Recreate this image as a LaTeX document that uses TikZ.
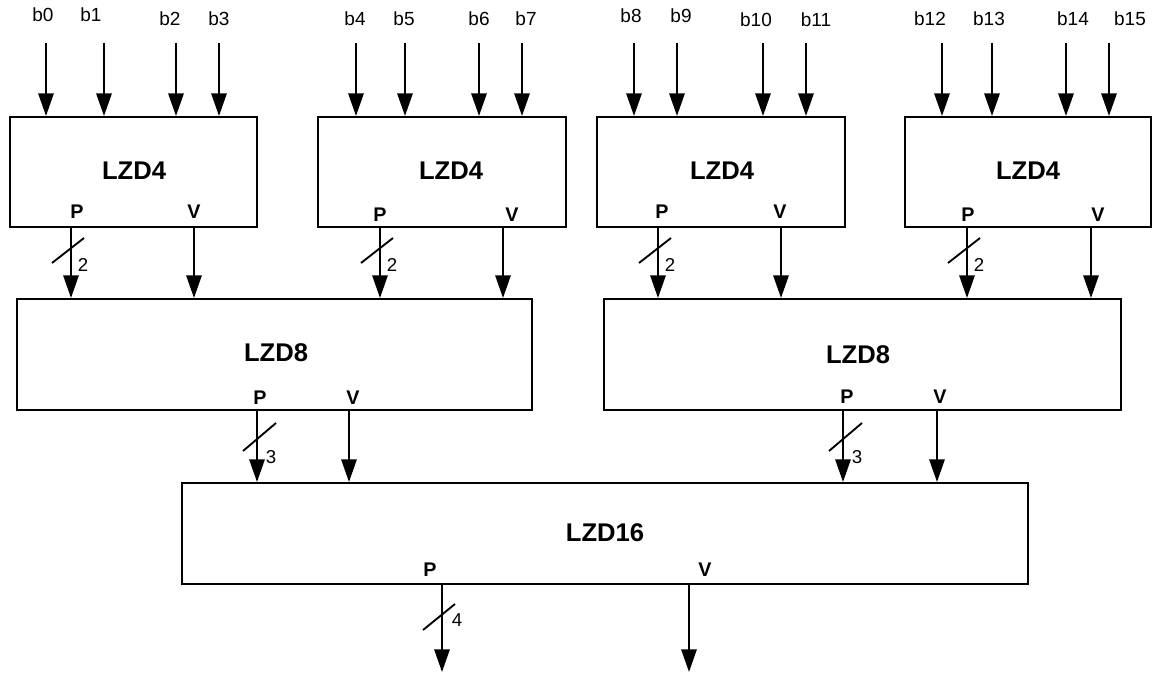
\documentclass[tikz,border=0pt]{standalone}
\usepackage{fontspec}
\setmainfont{Liberation Sans}
\usetikzlibrary{arrows.meta,calc}
\begin{document}
\begin{tikzpicture}[x=0.75pt,y=-0.75pt,
  wire/.style={line width=1.5pt},
  arr/.style={wire,-{Triangle[length=17pt,width=11.5pt]}},
  blk/.style={draw,line width=1.5pt,inner sep=0pt},
  blksize/.style 2 args={minimum width=#1*0.75pt,minimum height=#2*0.75pt},
  blktitle/.style={font=\bfseries\fontsize{19.2}{22}\selectfont,inner sep=0pt},
  portlbl/.style={font=\bfseries\fontsize{14.8}{17}\selectfont,inner sep=0pt},
  siglbl/.style={font=\fontsize{14.25}{17}\selectfont,inner sep=0pt},
  widlbl/.style={font=\fontsize{14}{16}\selectfont,inner sep=0pt},
  slash/.style={line width=1.4pt}]
\useasboundingbox (0,0) rectangle (1154,674);

% blocks
\node[blk,blksize={247}{110}] (A1) at (133.5,172) {};
\node[blk,blksize={248}{110}] (A2) at (442,172) {};
\node[blk,blksize={248}{110}] (A3) at (721,172) {};
\node[blk,blksize={246}{110}] (A4) at (1028,172) {};
\node[blk,blksize={515}{111}] (B1) at (274.5,354.5) {};
\node[blk,blksize={517}{111}] (B2) at (862.5,354.5) {};
\node[blk,blksize={846}{101}] (C) at (605,533.5) {};

% block names
\node[blktitle] (nA1) at (134,171) {LZD4};
\node[blktitle] (nA2) at (451,171) {LZD4};
\node[blktitle] (nA3) at (722,171) {LZD4};
\node[blktitle] (nA4) at (1028,171) {LZD4};
\node[blktitle] (nB1) at (276,353) {LZD8};
\node[blktitle] (nB2) at (858,355) {LZD8};
\node[blktitle] (nC) at (605,533) {LZD16};

% port labels
\node[portlbl] (A1P) at (77,212) {P};   \node[portlbl] (A1V) at (194,212) {V};
\node[portlbl] (A2P) at (380,215) {P};  \node[portlbl] (A2V) at (512,215) {V};
\node[portlbl] (A3P) at (662,212) {P};  \node[portlbl] (A3V) at (780,212) {V};
\node[portlbl] (A4P) at (968,215) {P};  \node[portlbl] (A4V) at (1098,215) {V};
\node[portlbl] (B1P) at (260,398) {P};  \node[portlbl] (B1V) at (353,398) {V};
\node[portlbl] (B2P) at (847,397) {P};  \node[portlbl] (B2V) at (940,397) {V};
\node[portlbl] (CP) at (430,570) {P};   \node[portlbl] (CV) at (705,570) {V};

% input labels and arrows
\foreach \i/\x/\lx/\ly/\blk in {0/46/43/15/A1, 1/104/91/15/A1, 2/176/170/19/A1, 3/219/219/19/A1,
  4/356/355/19/A2, 5/405/404/19/A2, 6/479/479/19/A2, 7/522/526/19/A2,
  8/634/631/16/A3, 9/677/681/16/A3, 10/763/756/20/A3, 11/806/816/20/A3,
  12/942/930/19/A4, 13/992/989/19/A4, 14/1066/1073/19/A4, 15/1109/1130/19/A4}{
  \node[siglbl] (lb\i) at (\lx,\ly) {b\i};
  \coordinate (in\i) at (\x,43);
  \draw[arr] (in\i) -- (in\i |- \blk.north);
}

% LZD4 -> LZD8
\foreach \blk/\px/\vx/\dst in {A1/71/194/B1, A2/380/503/B1, A3/658/781/B2, A4/967/1091/B2}{
  \coordinate (\blk p) at (\px,227);
  \coordinate (\blk v) at (\vx,227);
  \draw[arr] (\blk p) -- (\blk p |- \dst.north);
  \draw[arr] (\blk v) -- (\blk v |- \dst.north);
  \draw[slash] ($(\blk p)+(-19,36)$) -- ++(32,-25);
  \node[widlbl] (\blk w) at ($(\blk p)+(12,38)$) {2};
}

% LZD8 -> LZD16
\foreach \blk/\px/\vx in {B1/257/349, B2/843/937}{
  \coordinate (\blk p) at (\px,410);
  \coordinate (\blk v) at (\vx,410);
  \draw[arr] (\blk p) -- (\blk p |- C.north);
  \draw[arr] (\blk v) -- (\blk v |- C.north);
  \draw[slash] ($(\blk p)+(-14,41)$) -- ++(33,-28);
  \node[widlbl] (\blk w) at ($(\blk p)+(14,47)$) {3};
}

% outputs
\coordinate (Cp) at (442,584);
\coordinate (Cv) at (689,584);
\coordinate (outp) at (442,672);
\coordinate (outv) at (689,672);
\draw[arr] (Cp) -- (outp);
\draw[arr] (Cv) -- (outv);
\draw[slash] ($(Cp)+(-19,46)$) -- ++(32,-26);
\node[widlbl] (Cw) at ($(Cp)+(15,36)$) {4};
\end{tikzpicture}
\end{document}
